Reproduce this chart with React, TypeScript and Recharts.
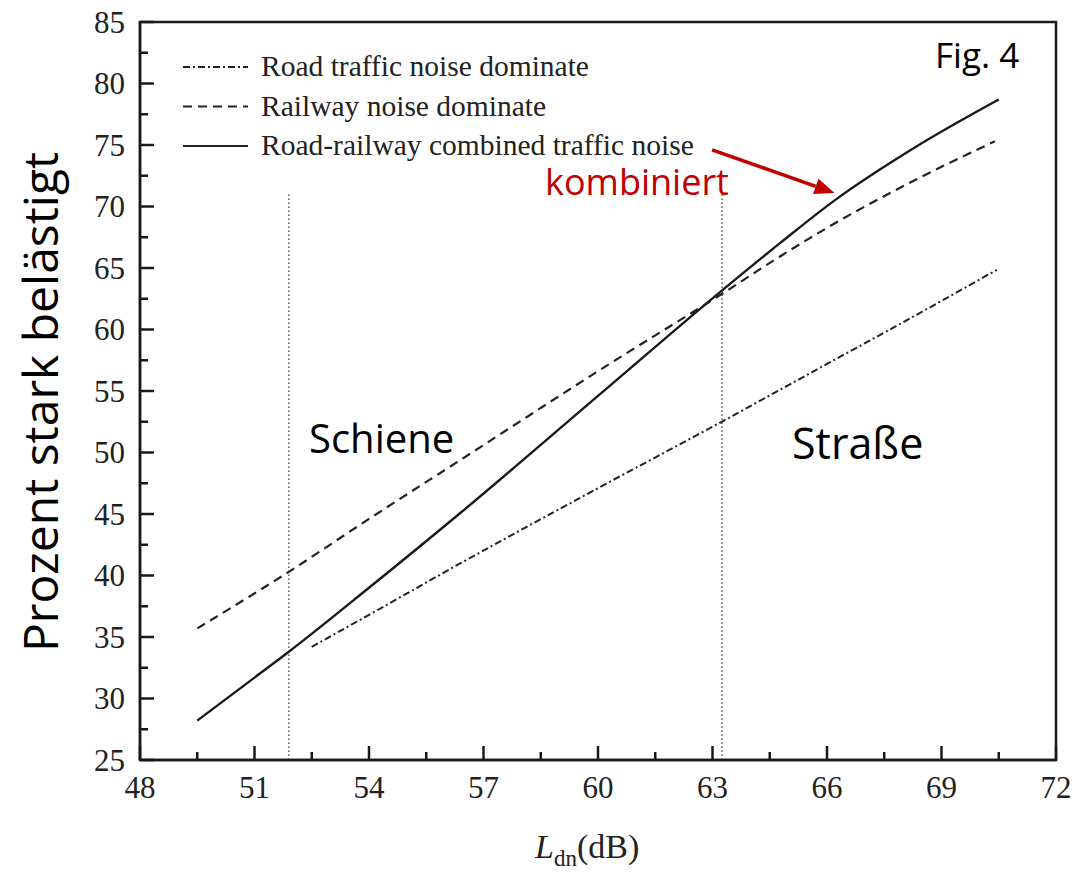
import { Legend, Line, LineChart, ReferenceArea, ReferenceLine, XAxis, YAxis } from "recharts";

// L_dn (dB) sample points and percentage highly annoyed, per curve
const roadX = [52.5, 54, 56.4, 60, 63.3, 66, 68, 70.45];
const roadY = [34.2, 36.8, 41.0, 47.1, 52.6, 57.2, 60.6, 64.85];

const railX = [49.5, 51.9, 54, 56.4, 60.3, 63.3, 64.8, 66.3, 68.4, 70.4];
const railY = [35.7, 40.3, 44.6, 49.4, 57.2, 63.0, 66.0, 68.8, 72.3, 75.3];

const combinedX = [49.5, 51, 51.9, 54, 56.4, 60, 63.3, 64.8, 66.2, 68.3, 70.5];
const combinedY = [28.2, 31.7, 33.8, 39.0, 45.1, 54.6, 63.3, 67.1, 70.5, 74.8, 78.7];

// dotted dividers between the rail- and road-dominated ranges
const dividerX = [51.9, 63.25];
const dividerTop = 71;

// arrow from the legend entry to the combined curve
const arrowFrom = { x: 62.99, y: 74.6 };
const arrowTo = { x: 66.2, y: 71.1 };

const xTicks = [48, 49.5, 51, 52.5, 54, 55.5, 57, 58.5, 60, 61.5, 63, 64.5, 66, 67.5, 69, 70.5, 72];
const yTicks = [25, 27.5, 30, 32.5, 35, 37.5, 40, 42.5, 45, 47.5, 50, 52.5, 55, 57.5, 60, 62.5, 65, 67.5, 70, 72.5, 75, 77.5, 80, 82.5, 85];

const legendItems = [
  { label: "Road traffic noise dominate", dash: "7 3 2 3" },
  { label: "Railway noise dominate", dash: "9 6" },
  { label: "Road-railway combined traffic noise", dash: undefined },
];

const pairs = (xs: number[], ys: number[]) => xs.map((x, i) => ({ x, y: ys[i] }));

const road = pairs(roadX, roadY);
const rail = pairs(railX, railY);
const combined = pairs(combinedX, combinedY);

const SERIF = "'Liberation Serif', 'Times New Roman', serif";
const SANS = "'Open Sans', 'Noto Sans', sans-serif";
const X_MARGIN = 16;
const Y_MARGIN = 15;

function XTick(props: any) {
  const { x, y, payload } = props;
  const major = payload.value % 3 === 0;
  const axisY = y - X_MARGIN;
  return (
    <g>
      <line x1={x} x2={x} y1={axisY} y2={axisY - (major ? 14 : 8)} stroke="#1a1a1a" strokeWidth={2.5} />
      {major && (
        <text x={x} y={y} dy="0.72em" textAnchor="middle" fontFamily={SERIF} fontSize={31} fill="#222">
          {payload.value}
        </text>
      )}
    </g>
  );
}

function YTick(props: any) {
  const { x, y, payload } = props;
  const major = payload.value % 5 === 0;
  const axisX = x + Y_MARGIN;
  return (
    <g>
      <line x1={axisX} x2={axisX + (major ? 14 : 8)} y1={y} y2={y} stroke="#1a1a1a" strokeWidth={2.5} />
      {major && (
        <text x={x} y={y} dy="0.34em" textAnchor="end" fontFamily={SERIF} fontSize={31} fill="#222">
          {payload.value}
        </text>
      )}
    </g>
  );
}

function LegendBox() {
  return (
    <svg width={600} height={130}>
      {legendItems.map((item, i) => {
        const cy = 22 + i * 39.5;
        return (
          <g key={item.label}>
            <line x1={8} x2={73} y1={cy} y2={cy} stroke="#222" strokeWidth={2} strokeDasharray={item.dash} />
            <text x={86} y={cy + 9} fontFamily={SERIF} fontSize={29.5} fill="#222">
              {item.label}
            </text>
          </g>
        );
      })}
    </svg>
  );
}

function Arrow(props: any) {
  const { x1, y1, x2, y2 } = props;
  const ang = Math.atan2(y2 - y1, x2 - x1);
  const len = 20;
  const half = 8;
  const bx = x2 - len * Math.cos(ang);
  const by = y2 - len * Math.sin(ang);
  const nx = -Math.sin(ang) * half;
  const ny = Math.cos(ang) * half;
  return (
    <g>
      <line x1={x1} y1={y1} x2={bx} y2={by} stroke="#c00000" strokeWidth={3.5} />
      <polygon points={`${x2},${y2} ${bx + nx},${by + ny} ${bx - nx},${by - ny}`} fill="#c00000" />
    </g>
  );
}

export default function App() {
  return (
    <div style={{ position: "relative", width: 1077, height: 874, background: "#fff" }}>
      <style>{"body{margin:0}"}</style>
      <LineChart width={1077} height={874} margin={{ top: 22, right: 21, bottom: 84, left: 80 }}>
        <XAxis
          dataKey="x"
          type="number"
          domain={[48, 72]}
          ticks={xTicks}
          interval={0}
          tickSize={0}
          tickMargin={X_MARGIN}
          tick={<XTick />}
          axisLine={{ stroke: "#1a1a1a", strokeWidth: 2.5 }}
          allowDataOverflow
        />
        <YAxis
          dataKey="y"
          type="number"
          width={60}
          domain={[25, 85]}
          ticks={yTicks}
          interval={0}
          tickSize={0}
          tickMargin={Y_MARGIN}
          tick={<YTick />}
          axisLine={{ stroke: "#1a1a1a", strokeWidth: 2.5 }}
          allowDataOverflow
        />
        <ReferenceArea x1={48} x2={72} y1={25} y2={85} fill="none" stroke="#1a1a1a" strokeWidth={2.5} fillOpacity={0} />
        {dividerX.map((dx) => (
          <ReferenceLine
            key={dx}
            segment={[{ x: dx, y: 25 }, { x: dx, y: dividerTop }]}
            stroke="#444"
            strokeWidth={1.3}
            strokeDasharray="1.5 2.5"
          />
        ))}
        <Line data={road} dataKey="y" type="monotone" stroke="#222" strokeWidth={2} strokeDasharray="7 3 2 3" dot={false} isAnimationActive={false} />
        <Line data={rail} dataKey="y" type="monotone" stroke="#222" strokeWidth={2.2} strokeDasharray="9 6" dot={false} isAnimationActive={false} />
        <Line data={combined} dataKey="y" type="monotone" stroke="#1a1a1a" strokeWidth={2.4} dot={false} isAnimationActive={false} />
        <ReferenceLine segment={[arrowFrom, arrowTo]} shape={<Arrow />} />
        <Legend
          layout="vertical"
          align="center"
          verticalAlign="middle"
          content={<LegendBox />}
          wrapperStyle={{ left: 175, top: 45, width: 600, height: 130 }}
        />
      </LineChart>
      <svg width={1077} height={874} style={{ position: "absolute", left: 0, top: 0, pointerEvents: "none" }}>
        <text transform="translate(58 402) rotate(-90)" textAnchor="middle" fontFamily={SANS} fontSize={48} fill="#000">
          Prozent stark belästigt
        </text>
        <text x={535} y={858} fontFamily={SERIF} fontSize={34} fill="#222">
          <tspan fontStyle="italic">L</tspan>
          <tspan fontSize={23} dy={8}>dn</tspan>
          <tspan dy={-8}>(dB)</tspan>
        </text>
        <text x={935} y={68} fontFamily={SANS} fontSize={35} fill="#000">Fig. 4</text>
        <text x={545} y={195} fontFamily={SANS} fontSize={36} fill="#c00000">kombiniert</text>
        <text x={309} y={453} fontFamily={SANS} fontSize={40} fill="#000">Schiene</text>
        <text x={792} y={459} fontFamily={SANS} fontSize={43} fill="#000">Straße</text>
      </svg>
    </div>
  );
}
